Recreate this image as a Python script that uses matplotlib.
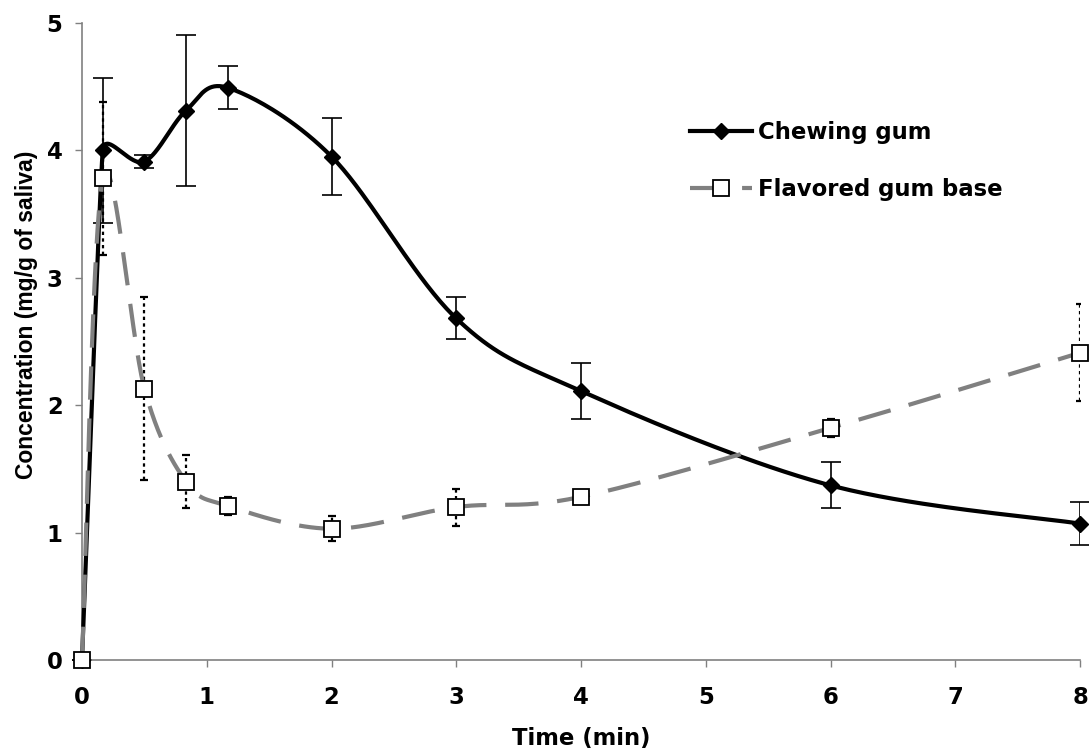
import numpy as np
import matplotlib
matplotlib.use("Agg")
import matplotlib.pyplot as plt
from matplotlib.lines import Line2D

# ---------------- data ----------------
time_min = [0, 0.167, 0.5, 0.833, 1.167, 2, 3, 4, 6, 8]
chewing_gum = [0, 4.00, 3.91, 4.31, 4.49, 3.95, 2.68, 2.11, 1.37, 1.07]
chewing_err = [0, 0.57, 0.05, 0.59, 0.17, 0.30, 0.165, 0.22, 0.18, 0.17]
flavored_base = [0, 3.78, 2.13, 1.40, 1.21, 1.03, 1.20, 1.28, 1.82, 2.41]
flavored_err = [0, 0.60, 0.72, 0.21, 0.07, 0.10, 0.145, 0.04, 0.07, 0.38]
x_ticks = [0, 1, 2, 3, 4, 5, 6, 7, 8]
y_ticks = [0, 1, 2, 3, 4, 5]
series_labels = ["Chewing gum", "Flavored gum base"]

plt.rcParams['font.family'] = ['DejaVu Sans']
plt.rcParams['font.weight'] = 'bold'
FS = 16.4

W, H = 1089, 756
fig = plt.figure(figsize=(W / 100, H / 100), dpi=100)
ax_l, ax_r, ax_t, ax_b = 82, 1080, 22.7, 660
ax = fig.add_axes([ax_l / W, (H - ax_b) / H, (ax_r - ax_l) / W, (ax_b - ax_t) / H])
ax.set_xlim(0, 8)
ax.set_ylim(0, 5)

# pixel scales (for Excel-like smoothing in screen space)
sx = (ax_r - ax_l) / 8.0
sy = (ax_b - ax_t) / 5.0


def excel_smooth(xs, ys, n=40):
    P = np.column_stack([np.asarray(xs, float) * sx, np.asarray(ys, float) * sy])
    m = len(P)
    tan = np.zeros_like(P)
    for i in range(m):
        p0 = P[i - 1] if i > 0 else P[i]
        p2 = P[i + 1] if i < m - 1 else P[i]
        p1 = P[i]
        d02 = np.linalg.norm(p2 - p0)
        if d02 == 0:
            continue
        ds = [d for d in (np.linalg.norm(p1 - p0), np.linalg.norm(p2 - p1)) if d > 0]
        f = min(1.0 / 6.0, min(ds) / (2 * d02))
        tan[i] = f * (p2 - p0)
    out = []
    t = np.linspace(0, 1, n)[:, None]
    for i in range(m - 1):
        p1, p2 = P[i], P[i + 1]
        c1 = p1 + tan[i]
        c2 = p2 - tan[i + 1]
        seg = (1 - t) ** 3 * p1 + 3 * (1 - t) ** 2 * t * c1 + 3 * (1 - t) * t ** 2 * c2 + t ** 3 * p2
        out.append(seg if i == 0 else seg[1:])
    arr = np.vstack(out)
    return arr[:, 0] / sx, arr[:, 1] / sy


gray = '#808080'

# Chewing gum
eb1 = ax.errorbar(time_min, chewing_gum, yerr=chewing_err, fmt='none', ecolor='black',
                  elinewidth=1.2, capsize=7, capthick=1.2, zorder=2)
for c in eb1[1]:
    c.set_clip_on(False)
cx, cy = excel_smooth(time_min, chewing_gum)
ax.plot(cx, cy, color='black', lw=3.0, zorder=3, solid_capstyle='butt', clip_on=False)
ax.plot(time_min, chewing_gum, linestyle='none', marker='D', ms=8.5, mfc='black',
        mec='black', zorder=4, clip_on=False)

# Flavored gum base
eb2 = ax.errorbar(time_min, flavored_base, yerr=flavored_err, fmt='none', ecolor='black',
                  elinewidth=1.6, capsize=3, capthick=1.6, zorder=5)
for lc in eb2[2]:
    lc.set_linestyle((0, (1.5, 1.5)))
fx, fy = excel_smooth(time_min, flavored_base)
ax.plot(fx, fy, color=gray, lw=3.0, dashes=(8, 4.5), zorder=6, clip_on=False)
ax.plot(time_min, flavored_base, linestyle='none', marker='s', ms=12, mfc='white',
        mec='black', mew=1.3, zorder=7, clip_on=False)

# axes styling
for s in ['top', 'right']:
    ax.spines[s].set_visible(False)
for s in ['left', 'bottom']:
    ax.spines[s].set_color(gray)
    ax.spines[s].set_linewidth(1.2)
ax.set_xticks(x_ticks)
ax.set_yticks(y_ticks)
ax.tick_params(axis='both', direction='out', length=5, width=1, color=gray,
               labelsize=FS)
ax.tick_params(axis='x', pad=13.5)
ax.tick_params(axis='y', pad=9)
for lab in ax.get_xticklabels() + ax.get_yticklabels():
    lab.set_fontweight('bold')

ax.set_xlabel('Time (min)', fontsize=FS, fontweight='bold')
ax.set_ylabel('Concentration (mg/g of saliva)', fontsize=16.5, fontweight='bold',
              family=['Liberation Sans', 'DejaVu Sans'])
ax.xaxis.set_label_coords(0.5, -0.105)
ax.yaxis.set_label_coords(-0.0441, 0.542)

handles = [
    Line2D([], [], color='black', lw=3, marker='D', ms=8.5, mfc='black', mec='black'),
    Line2D([], [], color=gray, lw=3, dashes=(8, 4.5), marker='s', ms=12, mfc='white',
           mec='black', mew=1.3),
]
leg = ax.legend(handles, series_labels, loc='upper left',
                bbox_to_anchor=(690 / W, 1 - 121 / H), bbox_transform=fig.transFigure,
                frameon=False, handlelength=2.72, handletextpad=0.26,
                labelspacing=1.49, borderpad=0, borderaxespad=0,
                prop={'weight': 'bold', 'size': FS, 'family': 'DejaVu Sans'})

fig.savefig('out.png', dpi=100)
